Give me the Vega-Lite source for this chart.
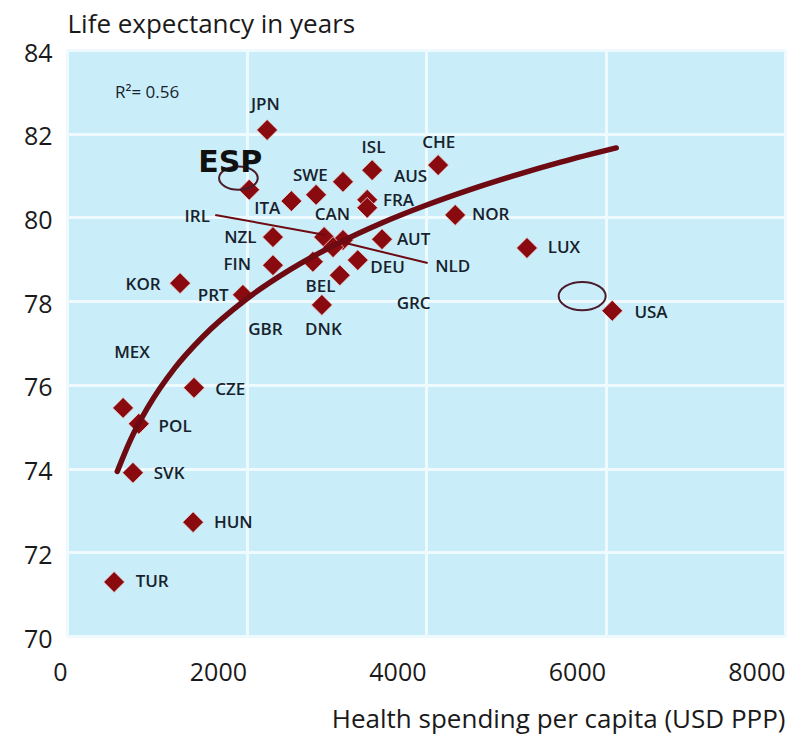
{
  "$schema": "https://vega.github.io/schema/vega-lite/v6.json",
  "autosize": "none",
  "width": 718,
  "height": 586,
  "padding": {"left": 67, "top": 50, "right": 15, "bottom": 99},
  "background": "white",
  "config": {
    "view": {"fill": "#c9eef9", "stroke": null},
    "axis": {"domain": false, "ticks": false, "grid": true, "gridColor": "#eefafd", "gridWidth": 3,
      "labelFont": "Open Sans", "labelFontSize": 25, "labelColor": "#1a1a1a", "labelFontWeight": 500,
      "titleFont": "Open Sans", "titleFontSize": 26, "titleColor": "#1a1a1a", "titleFontWeight": 500}
  },
  "datasets": {
    "countries": [
      {"country": "JPN", "spend": 2230, "life": 82.09, "lx": 2210, "ly": 82.69},
      {"country": "ESP", "spend": 2030, "life": 80.66, "lx": 1819, "ly": 81.30},
      {"country": "ITA", "spend": 2500, "life": 80.39, "lx": 2232, "ly": 80.20},
      {"country": "SWE", "spend": 2775, "life": 80.54, "lx": 2712, "ly": 80.99},
      {"country": "AUS", "spend": 3075, "life": 80.85, "lx": 3828, "ly": 80.96},
      {"country": "ISL", "spend": 3400, "life": 81.13, "lx": 3415, "ly": 81.66},
      {"country": "CHE", "spend": 4135, "life": 81.25, "lx": 4141, "ly": 81.78},
      {"country": "FRA", "spend": 3345, "life": 80.42, "lx": 3694, "ly": 80.40},
      {"country": "CAN", "spend": 3345, "life": 80.23, "lx": 2958, "ly": 80.06},
      {"country": "NOR", "spend": 4325, "life": 80.06, "lx": 4721, "ly": 80.06},
      {"country": "LUX", "spend": 5125, "life": 79.27, "lx": 5536, "ly": 79.27},
      {"country": "USA", "spend": 6075, "life": 77.77, "lx": 6507, "ly": 77.72},
      {"country": "NZL", "spend": 2295, "life": 79.53, "lx": 1931, "ly": 79.51},
      {"country": "FIN", "spend": 2295, "life": 78.86, "lx": 1897, "ly": 78.86},
      {"country": "KOR", "spend": 1260, "life": 78.43, "lx": 848, "ly": 78.39},
      {"country": "PRT", "spend": 1960, "life": 78.15, "lx": 1629, "ly": 78.12},
      {"country": "GBR", "spend": 2740, "life": 78.94, "lx": 2210, "ly": 77.31},
      {"country": "DNK", "spend": 2840, "life": 77.91, "lx": 2857, "ly": 77.31},
      {"country": "BEL", "spend": 3040, "life": 78.62, "lx": 2824, "ly": 78.34},
      {"country": "DEU", "spend": 3240, "life": 78.98, "lx": 3571, "ly": 78.79},
      {"country": "AUT", "spend": 3510, "life": 79.48, "lx": 3862, "ly": 79.46},
      {"country": "IRL", "spend": 2865, "life": 79.53, "lx": 1451, "ly": 80.01},
      {"country": "NLD", "spend": 3075, "life": 79.46, "lx": 4297, "ly": 78.82},
      {"country": "GRC", "spend": 2965, "life": 79.29, "lx": 3862, "ly": 77.93},
      {"country": "MEX", "spend": 625, "life": 75.45, "lx": 725, "ly": 76.76},
      {"country": "POL", "spend": 800, "life": 75.07, "lx": 1205, "ly": 74.99},
      {"country": "CZE", "spend": 1415, "life": 75.93, "lx": 1819, "ly": 75.88},
      {"country": "SVK", "spend": 735, "life": 73.90, "lx": 1138, "ly": 73.87},
      {"country": "HUN", "spend": 1405, "life": 72.72, "lx": 1853, "ly": 72.70},
      {"country": "TUR", "spend": 525, "life": 71.29, "lx": 949, "ly": 71.29}
    ],
    "curve": [
      {"spend": 560, "life": 73.93},
      {"spend": 700, "life": 74.65},
      {"spend": 900, "life": 75.46},
      {"spend": 1200, "life": 76.40},
      {"spend": 1500, "life": 77.12},
      {"spend": 2000, "life": 78.05},
      {"spend": 2500, "life": 78.77},
      {"spend": 3000, "life": 79.36},
      {"spend": 3500, "life": 79.86},
      {"spend": 4000, "life": 80.29},
      {"spend": 4500, "life": 80.67},
      {"spend": 5000, "life": 81.01},
      {"spend": 5500, "life": 81.32},
      {"spend": 6120, "life": 81.66}
    ],
    "leaders": [
      {"country": "IRL", "x1": 1652, "y1": 80.06, "x2": 2879, "y2": 79.58},
      {"country": "NLD", "x1": 3103, "y1": 79.39, "x2": 4018, "y2": 78.91}
    ],
    "rings": [
      {"spot": "ESP", "spend": 1910, "life": 80.94, "ring": 1500},
      {"spot": "USA", "spend": 5740, "life": 78.12, "ring": 2209}
    ],
    "notes": [
      {"note": "R²= 0.56", "spend": 893, "life": 82.97}
    ]
  },
  "layer": [
    {
      "data": {"name": "countries"},
      "mark": {"type": "point", "shape": "diamond", "filled": true, "size": 440, "color": "#8a0b0f", "stroke": "#f3dede", "strokeWidth": 0.8, "opacity": 1},
      "encoding": {
        "x": {"field": "spend", "type": "quantitative", "scale": {"domain": [0, 8000], "nice": false},
          "axis": {"values": [0, 2000, 4000, 6000, 8000], "format": "d", "labelAlign": "right", "labelPadding": 24, "labelOverlap": false, "labelFlush": false, "labelBound": false,
            "title": "Health spending per capita (USD PPP)", "titleAlign": "right", "titleX": 718, "titleY": 91, "titleBaseline": "alphabetic", "titleAnchor": null}},
        "y": {"field": "life", "type": "quantitative", "scale": {"domain": [70, 84], "nice": false, "zero": false},
          "axis": {"values": [70, 72, 74, 76, 78, 80, 82, 84], "labelPadding": 15, "labelOffset": 3, "labelOverlap": false, "labelFlush": false, "labelBound": false,
            "title": "Life expectancy in years", "titleAngle": 0, "titleAlign": "left", "titleX": 0, "titleY": -18, "titleBaseline": "alphabetic", "titleAnchor": null}}
      }
    },
    {
      "data": {"name": "curve"},
      "mark": {"type": "line", "color": "#6e0a12", "strokeWidth": 5.5, "strokeCap": "round", "interpolate": "monotone"},
      "encoding": {
        "x": {"field": "spend", "type": "quantitative"},
        "y": {"field": "life", "type": "quantitative"}
      }
    },
    {
      "data": {"name": "leaders"},
      "mark": {"type": "rule", "color": "#6e0a12", "strokeWidth": 2},
      "encoding": {
        "x": {"field": "x1", "type": "quantitative"},
        "y": {"field": "y1", "type": "quantitative"},
        "x2": {"field": "x2"},
        "y2": {"field": "y2"}
      }
    },
    {
      "data": {"name": "rings"},
      "mark": {"type": "point", "shape": "M -1 0 A 1 0.6 0 1 0 1 0 A 1 0.6 0 1 0 -1 0 Z", "filled": false, "color": "#4a1c2c", "strokeWidth": 2, "opacity": 1},
      "encoding": {
        "x": {"field": "spend", "type": "quantitative"},
        "y": {"field": "life", "type": "quantitative"},
        "size": {"field": "ring", "type": "quantitative", "scale": null}
      }
    },
    {
      "data": {"name": "countries"},
      "transform": [{"filter": "datum.country !== 'ESP'"}],
      "mark": {"type": "text", "font": "Open Sans", "fontSize": 17, "fontWeight": 600, "color": "#17222d", "align": "center", "baseline": "middle"},
      "encoding": {
        "x": {"field": "lx", "type": "quantitative"},
        "y": {"field": "ly", "type": "quantitative"},
        "text": {"field": "country", "type": "nominal"}
      }
    },
    {
      "data": {"name": "countries"},
      "transform": [{"filter": "datum.country === 'ESP'"}],
      "mark": {"type": "text", "font": "DejaVu Sans", "fontSize": 30, "fontWeight": "bold", "color": "#111111", "align": "center", "baseline": "middle"},
      "encoding": {
        "x": {"field": "lx", "type": "quantitative"},
        "y": {"field": "ly", "type": "quantitative"},
        "text": {"field": "country", "type": "nominal"}
      }
    },
    {
      "data": {"name": "notes"},
      "mark": {"type": "text", "font": "Open Sans", "fontSize": 17, "fontWeight": 500, "color": "#17222d", "align": "center", "baseline": "middle"},
      "encoding": {
        "x": {"field": "spend", "type": "quantitative"},
        "y": {"field": "life", "type": "quantitative"},
        "text": {"field": "note", "type": "nominal"}
      }
    }
  ]
}
